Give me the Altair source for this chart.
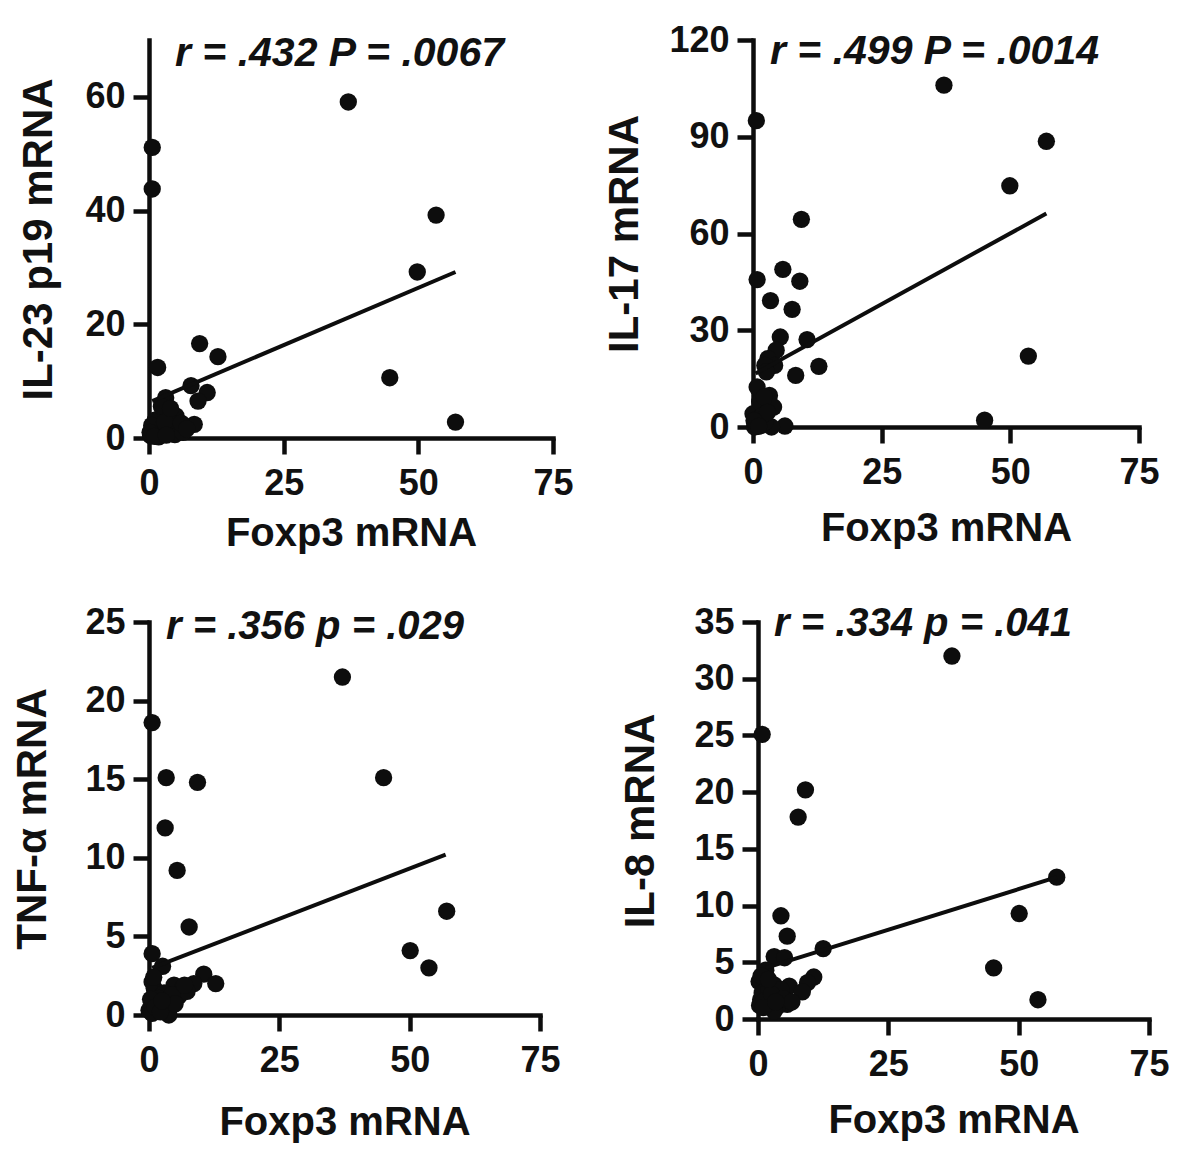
import altair as alt
import pandas as pd

FONT = "Liberation Sans"

# ---------------- data ----------------
# Panel A: IL-23 p19 vs Foxp3
p1_x = [37.0, 0.6, 0.6, 53.3, 49.8, 44.7, 56.9,
        9.4, 12.8, 1.6, 7.8, 10.8, 9.1, 3.1, 8.4, 5.0,
        0.3, 0.8, 1.5, 2.0, 2.6, 3.4, 4.2, 4.8, 5.6, 6.3, 1.2, 2.3, 3.8, 0.5,
        1.8, 2.9, 4.0, 6.0, 0.2, 1.0, 3.2, 7.0]
p1_y = [59.1, 51.1, 43.8, 39.2, 29.2, 10.6, 2.8,
        16.6, 14.3, 12.4, 9.2, 8.0, 6.5, 7.1, 2.4, 3.9,
        0.4, 1.5, 0.8, 2.5, 4.8, 1.2, 2.0, 0.6, 1.8, 1.0, 3.2, 5.6, 3.0, 2.2,
        0.2, 2.8, 5.2, 2.6, 1.0, 0.3, 0.5, 1.6]
fit1_x = [0.6, 56.9]
fit1_y = [6.5, 29.2]

# Panel B: IL-17 vs Foxp3
p2_x = [37.1, 0.65, 57.0, 49.9, 9.4, 5.8, 0.8, 9.1, 3.4, 7.6, 5.3, 10.5,
        4.5, 2.9, 4.2, 2.3, 2.6, 8.3, 12.8, 0.8, 3.2, 4.0, 0.0, 1.0, 45.0,
        53.5, 6.2, 3.6, 1.6, 0.3, 2.3, 1.3, 2.2, 0.5, 1.8, 2.8, 0.2, 1.1]
p2_y = [106.0, 95.0, 88.6, 74.8, 64.4, 48.9, 45.7, 45.2, 39.2, 36.5, 27.9, 27.1,
        23.8, 21.2, 19.1, 19.1, 17.1, 16.0, 18.8, 12.4, 9.8, 6.2, 4.1, 2.6, 2.1,
        22.0, 0.3, 0.0, 0.5, 0.0, 1.5, 7.8, 9.3, 1.0, 3.5, 4.5, 2.0, 0.2]
fit2_x = [0.5, 57.0]
fit2_y = [16.6, 66.2]

# Panel C: TNF-alpha vs Foxp3
p3_x = [37.1, 0.6, 3.3, 9.3, 45.0, 3.1, 5.4, 7.7, 57.1, 50.1, 53.7,
        0.6, 2.6, 0.6, 1.0, 10.5, 12.8, 8.6, 4.8, 6.4, 5.7, 3.8, 3.5, 1.6,
        0.0, 0.6, 3.8, 7.3, 2.9, 1.9, 0.3, 1.2, 2.2, 4.4, 5.0, 6.8, 0.9, 2.5]
p3_y = [21.5, 18.6, 15.1, 14.8, 15.1, 11.9, 9.2, 5.6, 6.6, 4.1, 3.0,
        3.9, 3.1, 2.1, 1.7, 2.6, 2.0, 2.0, 1.9, 1.7, 1.2, 0.85, 0.4, 0.6,
        0.3, 0.1, 0.0, 1.5, 1.4, 1.06, 1.0, 0.5, 0.2, 1.3, 0.7, 1.9, 2.4, 0.9]
fit3_x = [0.6, 56.9]
fit3_y = [3.0, 10.2]

# Panel D: IL-8 vs Foxp3
p4_x = [37.2, 0.8, 9.1, 7.7, 57.3, 50.1, 4.4, 5.6, 12.5, 45.2, 53.7,
        3.1, 5.1, 1.5, 0.2, 3.1, 6.0, 10.7, 9.5, 8.5, 0.5, 3.7, 5.6, 3.7,
        1.8, 0.8, 2.1, 4.4, 3.1, 0.3, 1.2, 2.6, 4.9, 6.5, 0.6, 2.0, 1.0, 3.4]
p4_y = [32.0, 25.1, 20.2, 17.8, 12.5, 9.3, 9.1, 7.3, 6.2, 4.5, 1.7,
        5.5, 5.4, 4.3, 3.3, 3.0, 2.9, 3.7, 3.2, 2.4, 1.7, 2.0, 1.3, 1.1,
        1.3, 2.3, 2.6, 2.6, 0.7, 1.2, 1.6, 2.2, 1.8, 1.5, 3.8, 3.5, 1.0, 1.5]
fit4_x = [1.5, 57.3]
fit4_y = [4.5, 12.5]

x_ticks = [0, 25, 50, 75]

# ---------------- chart ----------------
def panel(xs, ys, fx, fy, ytitle, ymax, yticks, stat, w, h, tdx, tdy, tsize,
          ytitle_pad, xtitle_pad):
    pts = pd.DataFrame({"x": xs, "y": ys})
    fit = pd.DataFrame({"x": fx, "y": fy})
    lab = pd.DataFrame({"t": [stat]})
    xsc = alt.Scale(domain=[0, 75], nice=False, zero=False)
    ysc = alt.Scale(domain=[0, ymax], nice=False, zero=False)
    xax = alt.Axis(values=x_ticks, title="Foxp3 mRNA", format="d",
                   titleFontSize=40, titlePadding=xtitle_pad, labelPadding=12)
    yax = alt.Axis(values=yticks, title=ytitle, format="d",
                   titleFontSize=42, titlePadding=ytitle_pad, labelPadding=8)
    points = alt.Chart(pts).mark_circle(size=300, opacity=1, color="#0d0d0d").encode(
        x=alt.X("x:Q", scale=xsc, axis=xax),
        y=alt.Y("y:Q", scale=ysc, axis=yax),
    )
    line = alt.Chart(fit).mark_line(color="#0d0d0d", strokeWidth=4).encode(
        x=alt.X("x:Q", scale=xsc),
        y=alt.Y("y:Q", scale=ysc),
    )
    text = alt.Chart(lab).mark_text(
        align="left", baseline="alphabetic", font=FONT, fontSize=tsize,
        fontStyle="italic", fontWeight="bold", color="#111",
    ).encode(x=alt.value(tdx), y=alt.value(tdy), text="t:N")
    return alt.layer(points, line, text).properties(width=w, height=h)


c1 = panel(p1_x, p1_y, fit1_x, fit1_y, "IL-23 p19 mRNA", 70, [0, 20, 40, 60],
           "r = .432  P = .0067", 404, 398, 26, 26, 41, 24, 12)
c2 = panel(p2_x, p2_y, fit2_x, fit2_y, "IL-17 mRNA", 120, [0, 30, 60, 90, 120],
           "r = .499  P = .0014", 386, 387, 17, 24, 41, 22, 18)
c3 = panel(p3_x, p3_y, fit3_x, fit3_y, "TNF-α mRNA", 25, [0, 5, 10, 15, 20, 25],
           "r = .356 p = .029", 391, 393, 17, 17, 40, 30, 24)
c4 = panel(p4_x, p4_y, fit4_x, fit4_y, "IL-8 mRNA", 35, [0, 5, 10, 15, 20, 25, 30, 35],
           "r = .334 p = .041", 391, 397, 16, 14, 40, 31, 18)

row1 = alt.hconcat(c1, c2, spacing=29)
row2 = alt.hconcat(c3, c4, spacing=58)

chart = alt.vconcat(row1, row2, spacing=51).properties(
    padding={"top": 14, "left": 3, "right": 5, "bottom": 5},
    background="white",
).configure_view(stroke=None).configure_axis(
    grid=False,
    domainColor="#0d0d0d", domainWidth=4.5, domainCap="square",
    tickColor="#0d0d0d", tickWidth=4.5, tickSize=16,
    labelFont=FONT, labelFontWeight="bold", labelFontSize=36, labelColor="#111",
    labelFlush=False, labelOverlap=False,
    titleFont=FONT, titleFontWeight="bold", titleColor="#111",
)

chart.save("out.html", embed_options={"renderer": "svg", "actions": False})
